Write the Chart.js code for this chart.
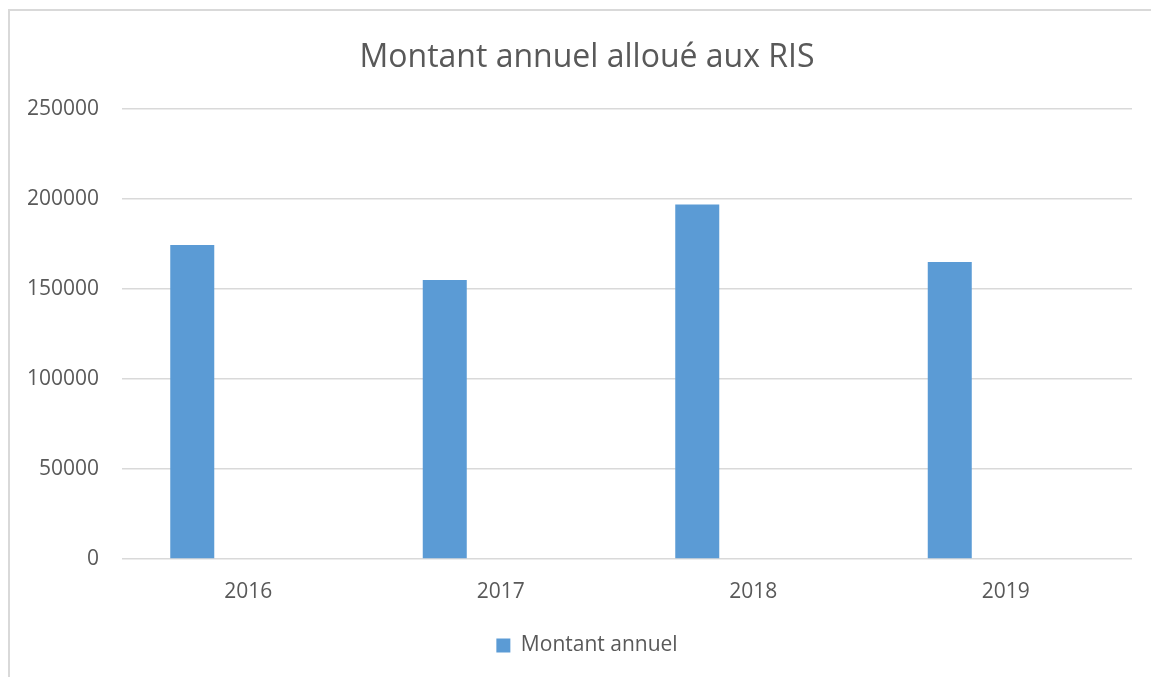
<!DOCTYPE html>
<html>
<head>
<meta charset="utf-8">
<script src="https://cdn.jsdelivr.net/npm/chart.js@4/dist/chart.umd.min.js"></script>
<style>
  html, body { margin:0; padding:0; background:#fff; overflow:hidden; }
  #frame { position:absolute; left:8px; top:9px; width:1180px; height:700px; border:2px solid #d9d9d9; box-sizing:border-box; }
  #wrap { position:absolute; left:0; top:0; width:1151px; height:677px; }
</style>
</head>
<body>
<div id="frame"></div>
<div id="wrap"><canvas id="c" width="1151" height="677"></canvas></div>
<script>
const categories = ["2016", "2017", "2018", "2019"];
const montantAnnuel = [174500, 155000, 197000, 165000];
const serieVide = [null, null, null, null];
const yTicks = [0, 50000, 100000, 150000, 200000, 250000];
const titleText = "Montant annuel alloué aux RIS";
const seriesLabel = "Montant annuel";

const FONT = "'Open Sans', 'DejaVu Sans', sans-serif";
const TXT = "#595959";

new Chart(document.getElementById('c'), {
  type: 'bar',
  data: {
    labels: categories,
    datasets: [
      { label: seriesLabel, data: montantAnnuel, backgroundColor: '#5B9BD5', borderWidth: 0,
        categoryPercentage: 0.887, barPercentage: 0.393 },
      { label: '', data: serieVide, backgroundColor: '#ED7D31', borderWidth: 0,
        categoryPercentage: 0.887, barPercentage: 0.393 }
    ]
  },
  options: {
    responsive: false,
    animation: false,
    devicePixelRatio: 1,
    layout: { padding: { left: 42, right: 19, top: 0, bottom: 11 } },
    plugins: {
      title: {
        display: true, text: titleText, color: TXT,
        font: { family: FONT, size: 32, weight: 'normal', lineHeight: 1.2 },
        padding: { top: 39, bottom: 31.6 }
      },
      legend: {
        position: 'bottom',
        labels: {
          color: TXT, font: { family: FONT, size: 21 },
          boxWidth: 14, boxHeight: 14, padding: 21,
          filter: (item) => item.datasetIndex === 0
        }
      },
      tooltip: { enabled: false }
    },
    scales: {
      x: {
        grid: { display: false },
        border: { display: false },
        ticks: { color: TXT, font: { family: FONT, size: 21, lineHeight: 1.2 }, padding: 12, maxRotation: 0 },
        afterFit: (s) => { s.height = 55; }
      },
      y: {
        min: 0, max: 250000,
        afterBuildTicks: (s) => { s.ticks = yTicks.map(v => ({ value: v })); },
        grid: { color: '#d9d9d9', lineWidth: 1.5, drawTicks: false },
        border: { display: false },
        ticks: { color: TXT, font: { family: FONT, size: 21 }, padding: 23, callback: (v) => String(v) },
        afterFit: (s) => { s.width = 80; s._computeLabelArea = function () { return undefined; }; }
      }
    }
  }
});
</script>
</body>
</html>
